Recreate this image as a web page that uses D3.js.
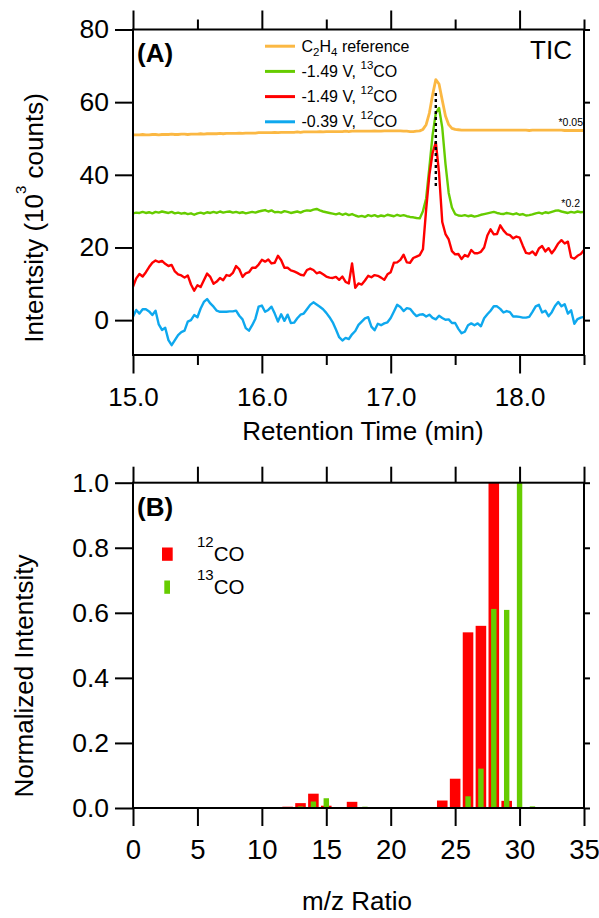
<!DOCTYPE html>
<html>
<head>
<meta charset="utf-8">
<script src="https://cdn.jsdelivr.net/npm/d3@7"></script>
<style>
  html, body { margin: 0; padding: 0; background: #fff; }
  svg { display: block; }
</style>
</head>
<body>
<svg id="fig" width="599" height="918"></svg>
<script>
// ---------- Panel A: total ion chromatograms ----------
const scanTimes = [
  15.000,15.025,15.050,15.075,15.100,15.125,15.150,15.175,15.200,15.225,
  15.250,15.275,15.300,15.325,15.350,15.375,15.400,15.425,15.450,15.475,
  15.500,15.525,15.550,15.575,15.600,15.625,15.650,15.675,15.700,15.725,
  15.750,15.775,15.800,15.825,15.850,15.875,15.900,15.925,15.950,15.975,
  16.000,16.025,16.050,16.075,16.100,16.125,16.150,16.175,16.200,16.225,
  16.250,16.275,16.300,16.325,16.350,16.375,16.400,16.425,16.450,16.475,
  16.500,16.525,16.550,16.575,16.600,16.625,16.650,16.675,16.700,16.725,
  16.750,16.775,16.800,16.825,16.850,16.875,16.900,16.925,16.950,16.975,
  17.000,17.025,17.050,17.075,17.100,17.125,17.150,17.175,17.200,17.225,
  17.250,17.275,17.300,17.325,17.350,17.375,17.400,17.425,17.450,17.475,
  17.500,17.525,17.550,17.575,17.600,17.625,17.650,17.675,17.700,17.725,
  17.750,17.775,17.800,17.825,17.850,17.875,17.900,17.925,17.950,17.975,
  18.000,18.025,18.050,18.075,18.100,18.125,18.150,18.175,18.200,18.225,
  18.250,18.275,18.300,18.325,18.350,18.375,18.400,18.425,18.450,18.475,
  18.500
];

// C2H4 reference (scaled *0.05)
const ethyleneRef = [
  51.0,51.0,51.0,51.1,51.0,51.0,51.1,51.1,51.0,51.1,
  51.1,51.1,51.2,51.1,51.1,51.2,51.2,51.1,51.2,51.2,
  51.2,51.3,51.2,51.3,51.3,51.3,51.3,51.4,51.3,51.4,
  51.4,51.4,51.4,51.5,51.4,51.5,51.5,51.5,51.5,51.6,
  51.6,51.6,51.6,51.6,51.7,51.6,51.7,51.7,51.7,51.7,
  51.7,51.8,51.7,51.8,51.8,51.8,51.8,51.8,51.9,51.8,
  51.9,51.9,51.9,51.9,51.9,51.9,52.0,51.9,52.0,52.0,
  52.0,52.0,52.0,52.0,52.0,52.1,52.0,52.0,52.1,52.1,
  52.1,52.1,52.1,52.1,52.0,52.0,51.9,51.9,52.0,52.1,
  52.5,53.8,57.0,62.0,66.2,65.0,60.5,56.2,53.8,52.8,
  52.5,52.4,52.3,52.3,52.3,52.3,52.3,52.3,52.3,52.3,
  52.3,52.3,52.3,52.3,52.3,52.3,52.3,52.3,52.3,52.3,
  52.3,52.3,52.3,52.2,52.3,52.3,52.3,52.3,52.3,52.3,
  52.3,52.3,52.3,52.3,52.2,52.2,52.2,52.2,52.2,52.2,
  52.2
];

// -1.49 V, 13CO (scaled *0.2)
const co13Neg149 = [
  29.4,29.6,29.5,29.8,29.5,29.7,29.4,29.8,29.6,29.9,
  29.7,29.5,29.8,29.4,29.6,29.3,29.5,29.2,29.4,29.0,
  29.4,29.6,29.3,29.7,29.5,29.8,29.5,29.9,29.6,29.8,
  29.9,29.6,29.8,29.5,29.7,29.4,29.6,29.8,29.6,29.9,
  30.1,30.3,29.9,30.2,29.7,29.8,29.6,30.0,29.8,29.5,
  29.7,29.9,29.6,30.0,30.2,30.1,30.4,30.6,30.2,29.9,
  29.7,29.5,29.3,29.1,29.4,29.0,29.3,28.9,29.2,28.8,
  28.5,28.7,28.4,28.9,28.6,28.9,28.5,28.8,28.6,29.0,
  28.8,28.6,29.0,28.7,28.9,28.6,28.4,28.3,28.1,28.0,
  30.0,33.5,42.0,51.0,57.0,58.4,53.0,43.0,35.0,31.0,
  29.2,28.8,28.7,28.9,28.6,28.8,28.5,28.7,29.0,29.2,
  29.4,29.6,29.8,29.5,29.3,29.2,29.5,29.3,29.1,29.4,
  29.0,29.2,28.8,28.9,29.1,29.4,29.6,29.3,29.7,29.5,
  29.8,30.1,30.2,29.9,29.7,29.5,29.8,29.6,29.9,29.7,
  29.8
];

// -1.49 V, 12CO
const co12Neg149 = [
  9.2,11.5,12.7,12.0,13.2,14.6,15.8,16.4,16.0,16.3,
  15.5,14.9,15.2,13.4,12.6,12.3,11.7,12.3,9.8,8.1,
  9.6,9.1,11.0,12.8,11.9,10.0,10.6,11.6,11.0,12.4,
  12.2,13.0,14.9,14.0,11.9,12.9,13.2,14.4,14.4,15.3,
  16.6,16.1,16.7,15.6,15.8,17.7,16.5,14.4,14.4,13.7,
  13.4,13.0,12.5,12.3,13.8,14.2,13.8,12.9,13.2,12.6,
  12.0,11.7,11.6,11.9,11.1,12.0,10.5,10.1,15.6,8.9,
  10.1,9.8,10.9,12.2,11.8,12.4,12.2,11.7,11.1,12.6,
  13.2,15.8,15.9,16.6,18.0,15.9,15.8,17.1,17.5,17.9,
  19.5,30.5,40.0,46.0,49.0,40.5,27.0,23.7,22.2,19.0,
  18.1,18.2,16.8,17.9,17.5,19.3,18.4,18.4,18.8,20.0,
  23.3,25.0,23.6,23.7,26.1,24.7,23.7,23.4,22.5,23.0,
  22.7,20.5,18.5,18.3,18.9,17.9,19.7,20.4,18.9,19.8,
  18.4,19.6,21.1,22.0,21.1,21.6,17.3,16.9,17.7,18.2,
  19.3
];

// -0.39 V, 12CO
const co12Neg039 = [
  0.9,2.8,1.8,3.0,3.0,2.4,1.4,2.6,-1.2,-2.7,
  -2.1,-5.5,-6.9,-5.5,-4.1,-3.3,-2.9,-0.4,0.0,1.4,
  0.8,3.2,5.0,5.8,4.6,3.7,2.6,2.3,2.3,2.3,
  2.4,2.4,2.6,1.2,0.2,-2.2,-2.9,-1.4,0.4,3.7,
  4.0,2.3,2.8,3.7,1.8,-0.4,1.6,-0.2,1.5,-0.8,
  -0.7,0.5,1.5,1.8,3.0,4.2,4.9,4.3,3.7,3.0,
  2.0,0.8,-0.6,-2.6,-4.7,-5.6,-4.9,-5.2,-3.9,-3.0,
  -1.3,-0.4,0.5,0.8,-1.8,-2.8,-1.0,-1.4,-0.9,-0.6,
  0.6,2.4,4.2,3.6,2.5,3.3,3.1,2.0,1.1,1.5,
  1.6,1.0,1.5,0.6,0.2,1.2,0.6,0.1,0.2,-0.8,
  -0.8,-2.4,-3.6,-3.2,-1.4,-0.9,-1.4,-0.9,-1.7,0.5,
  1.6,2.6,3.8,3.8,3.1,2.1,2.5,2.2,1.0,1.0,
  0.9,0.7,0.7,0.9,2.3,3.8,4.2,2.1,2.6,1.1,
  2.2,3.9,5.0,3.8,4.4,1.8,2.7,-1.0,0.3,0.7,
  0.9
];

const timeMajorTicks = [15.0, 16.0, 17.0, 18.0];
const timeMinorTicks = [15.5, 16.5, 17.5, 18.5];
const intensityTicks = [0, 20, 40, 60, 80];
const peakMarkerTime = 17.35;
const peakMarkerSpan = [36.5, 62.5];

// ---------- Panel B: mass spectra at the CO peak ----------
const mz12 = [12, 13, 14, 15, 17, 22, 24, 25, 26, 27, 28, 29, 32];
const int12 = [0.004, 0.015, 0.044, 0.007, 0.019, 0.003, 0.023, 0.090, 0.540, 0.560, 1.000, 0.022, 0.003];
const mz13 = [11, 13, 14, 15, 18, 20, 26, 27, 28, 29, 30, 31, 34];
const int13 = [0.002, 0.005, 0.020, 0.030, 0.004, 0.002, 0.036, 0.121, 0.612, 0.609, 1.000, 0.005, 0.002];
const mzTicks = [0, 5, 10, 15, 20, 25, 30, 35];
const normTicks = [0.0, 0.2, 0.4, 0.6, 0.8, 1.0];

// ---------- drawing ----------
const FONT = "'Liberation Sans', Arial, Helvetica, sans-serif";
const COL = { orange: "#fbb843", green: "#66cc00", red: "#ff0000", blue: "#0ea8ee" };
const svg = d3.select("#fig");

function tidy(g, fontSize) {
  g.select(".domain").remove();
  g.selectAll("line").attr("stroke", "#000").attr("stroke-width", 2);
  g.selectAll("text").attr("font-family", FONT).attr("font-size", fontSize).attr("fill", "#000");
  g.attr("font-size", null).attr("font-family", null);
}

// Panel A scales
const A = { left: 133, right: 584, top: 29.5, bottom: 355 };
const xA = d3.scaleLinear().domain([15, 18.5]).range([A.left, A.right]);
const yA = d3.scaleLinear().domain([-9.6, 80]).range([A.bottom, A.top]);

const gA = svg.append("g");
const lineA = vals => d3.line()
  .x((d, i) => xA(scanTimes[i]))
  .y(d => yA(d))(vals);

const traces = [
  { vals: ethyleneRef, color: COL.orange, w: 2.8 },
  { vals: co13Neg149, color: COL.green, w: 2.4 },
  { vals: co12Neg149, color: COL.red, w: 2.4 },
  { vals: co12Neg039, color: COL.blue, w: 2.4 }
];
traces.forEach(t => {
  gA.append("path").attr("d", lineA(t.vals))
    .attr("fill", "none").attr("stroke", t.color)
    .attr("stroke-width", t.w).attr("stroke-linejoin", "round");
});

// dotted marker at the peak apex
gA.append("line")
  .attr("x1", xA(peakMarkerTime)).attr("x2", xA(peakMarkerTime))
  .attr("y1", yA(peakMarkerSpan[1])).attr("y2", yA(peakMarkerSpan[0]))
  .attr("stroke", "#000").attr("stroke-width", 2.4).attr("stroke-dasharray", "3,3");

// frame and axes A
gA.append("rect").attr("x", A.left).attr("y", A.top)
  .attr("width", A.right - A.left).attr("height", A.bottom - A.top)
  .attr("fill", "none").attr("stroke", "#000").attr("stroke-width", 2);

gA.append("g").attr("transform", `translate(${A.left},0)`)
  .call(d3.axisLeft(yA).tickValues(intensityTicks).tickSize(18).tickPadding(6).tickFormat(d3.format("d")))
  .call(g => tidy(g, 26.5));
gA.append("g").attr("transform", `translate(${A.right},0)`)
  .call(d3.axisRight(yA).tickValues(intensityTicks).tickSize(6).tickFormat(""))
  .call(g => tidy(g, 26));
gA.append("g").attr("transform", `translate(0,${A.bottom})`)
  .call(d3.axisBottom(xA).tickValues(timeMajorTicks).tickSize(18.5).tickPadding(14).tickFormat(d3.format(".1f")))
  .call(g => tidy(g, 26));
gA.append("g").attr("transform", `translate(0,${A.bottom})`)
  .call(d3.axisBottom(xA).tickValues(timeMinorTicks).tickSize(10).tickFormat(""))
  .call(g => tidy(g, 26));
gA.append("g").attr("transform", `translate(0,${A.top})`)
  .call(d3.axisTop(xA).tickValues(timeMajorTicks).tickSize(19).tickFormat(""))
  .call(g => tidy(g, 26));
gA.append("g").attr("transform", `translate(0,${A.top})`)
  .call(d3.axisTop(xA).tickValues(timeMinorTicks).tickSize(10).tickFormat(""))
  .call(g => tidy(g, 26));

// axis titles A
gA.append("text").attr("x", 363).attr("y", 440).attr("text-anchor", "middle")
  .attr("font-family", FONT).attr("font-size", 26).text("Retention Time (min)");
const yTitleA = gA.append("text").attr("transform", "translate(43,218) rotate(-90)")
  .attr("text-anchor", "middle").attr("font-family", FONT).attr("font-size", 26);
yTitleA.append("tspan").text("Intentsity (10");
yTitleA.append("tspan").attr("font-size", 15).attr("dy", -17).text("3");
yTitleA.append("tspan").attr("dy", 17).text(" counts)");

// panel labels A
gA.append("text").attr("x", 137).attr("y", 62).attr("font-family", FONT)
  .attr("font-size", 26).attr("font-weight", "bold").text("(A)");
gA.append("text").attr("x", 572).attr("y", 59).attr("text-anchor", "end")
  .attr("font-family", FONT).attr("font-size", 26).text("TIC");

// scale factors
gA.append("text").attr("x", 583).attr("y", 126).attr("text-anchor", "end")
  .attr("font-family", FONT).attr("font-size", 10.5).text("*0.05");
gA.append("text").attr("x", 580).attr("y", 207).attr("text-anchor", "end")
  .attr("font-family", FONT).attr("font-size", 10.5).text("*0.2");

// legend A
const legendA = [
  { color: COL.orange, parts: [["C", 0], ["2", 1], ["H", 0], ["4", 1], [" reference", 0]] },
  { color: COL.green, parts: [["-1.49 V, ", 0], ["13", 2], ["CO", 0]] },
  { color: COL.red, parts: [["-1.49 V, ", 0], ["12", 2], ["CO", 0]] },
  { color: COL.blue, parts: [["-0.39 V, ", 0], ["12", 2], ["CO", 0]] }
];
legendA.forEach((row, i) => {
  const base = 51.7 + i * 25.2;
  gA.append("line").attr("x1", 265).attr("x2", 295)
    .attr("y1", base - 5.5).attr("y2", base - 5.5)
    .attr("stroke", row.color).attr("stroke-width", 3);
  const t = gA.append("text").attr("x", 301.5).attr("y", base)
    .attr("font-family", FONT).attr("font-size", 16);
  let shift = 0;
  row.parts.forEach(([s, kind]) => {
    const target = kind === 1 ? 4 : kind === 2 ? -8 : 0;
    const sp = t.append("tspan").attr("dy", target - shift).text(s);
    if (kind) sp.attr("font-size", 11.5);
    shift = target;
  });
});

// Panel B scales
const B = { left: 133, right: 584, top: 482.7, bottom: 808 };
const xB = d3.scaleLinear().domain([0, 35]).range([B.left, B.right]);
const yB = d3.scaleLinear().domain([0, 1]).range([B.bottom, B.top]);
const gB = svg.append("g");

const wide = xB(0.82) - xB(0);
const narrow = xB(0.42) - xB(0);
gB.selectAll("rect.co12").data(mz12).join("rect").attr("class", "co12")
  .attr("x", d => xB(d) - wide / 2).attr("width", wide)
  .attr("y", (d, i) => yB(int12[i])).attr("height", (d, i) => yB(0) - yB(int12[i]))
  .attr("fill", COL.red);
gB.selectAll("rect.co13").data(mz13).join("rect").attr("class", "co13")
  .attr("x", d => xB(d) - narrow / 2).attr("width", narrow)
  .attr("y", (d, i) => yB(int13[i])).attr("height", (d, i) => yB(0) - yB(int13[i]))
  .attr("fill", COL.green);

gB.append("rect").attr("x", B.left).attr("y", B.top)
  .attr("width", B.right - B.left).attr("height", B.bottom - B.top)
  .attr("fill", "none").attr("stroke", "#000").attr("stroke-width", 2);

gB.append("g").attr("transform", `translate(${B.left},0)`)
  .call(d3.axisLeft(yB).tickValues(normTicks).tickSize(18).tickPadding(6).tickFormat(d3.format(".1f")))
  .call(g => tidy(g, 26.5));
gB.append("g").attr("transform", `translate(${B.right},0)`)
  .call(d3.axisRight(yB).tickValues(normTicks).tickSize(6).tickFormat(""))
  .call(g => tidy(g, 26));
gB.append("g").attr("transform", `translate(0,${B.bottom})`)
  .call(d3.axisBottom(xB).tickValues(mzTicks).tickSize(18).tickPadding(13).tickFormat(d3.format("d")))
  .call(g => tidy(g, 27.5));
gB.append("g").attr("transform", `translate(0,${B.top})`)
  .call(d3.axisTop(xB).tickValues(mzTicks).tickSize(16).tickFormat(""))
  .call(g => tidy(g, 27));

gB.append("text").attr("x", 357).attr("y", 910).attr("text-anchor", "middle")
  .attr("font-family", FONT).attr("font-size", 26).text("m/z Ratio");
gB.append("text").attr("transform", "translate(33,676) rotate(-90)")
  .attr("text-anchor", "middle").attr("font-family", FONT).attr("font-size", 26)
  .text("Normalized Intentsity");

gB.append("text").attr("x", 137).attr("y", 516).attr("font-family", FONT)
  .attr("font-size", 26).attr("font-weight", "bold").text("(B)");

// legend B
const legendB = [
  { color: COL.red, w: 10.7, x: 162, label: "12", y: 561 },
  { color: COL.green, w: 5.7, x: 164.3, label: "13", y: 594 }
];
legendB.forEach(d => {
  gB.append("rect").attr("x", d.x).attr("y", d.y - 13.5).attr("width", d.w).attr("height", 13.3)
    .attr("fill", d.color);
  const t = gB.append("text").attr("x", 197).attr("y", d.y)
    .attr("font-family", FONT).attr("font-size", 20.5);
  t.append("tspan").attr("font-size", 15).attr("dy", -14).text(d.label);
  t.append("tspan").attr("dy", 14).text("CO");
});
</script>
</body>
</html>
